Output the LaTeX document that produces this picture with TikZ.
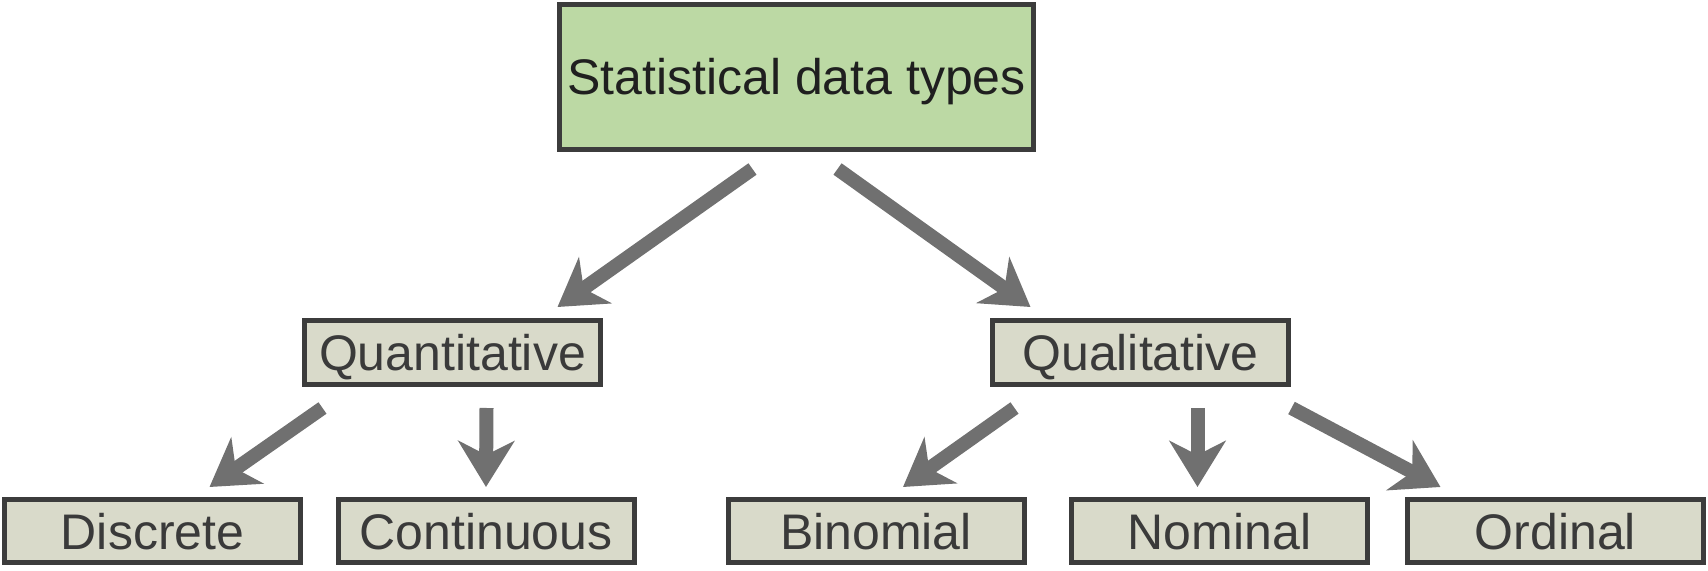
\documentclass[tikz,border=0pt]{standalone}
\usepackage{fontspec}
\setmainfont{Liberation Sans}
\usetikzlibrary{arrows.meta}
\definecolor{rootgreen}{HTML}{BCD9A4}
\definecolor{leafgray}{HTML}{D9DACA}
\definecolor{edgegray}{HTML}{3C3C3C}
\definecolor{arrowgray}{HTML}{707070}
\definecolor{labelgray}{HTML}{3A3A3A}

\begin{document}
\begin{tikzpicture}[x=0.5pt, y=-0.5pt,
        rootbox/.style={draw=edgegray, line width=2.5pt, fill=rootgreen, inner sep=0pt,
            minimum width=237pt, minimum height=72.5pt, text=black!88,
            font=\fontsize{25}{29}\selectfont, text height=18pt, text depth=0pt},
        midbox/.style={draw=edgegray, line width=2.5pt, fill=leafgray, inner sep=0pt,
            minimum width=148pt, minimum height=32pt, text=labelgray,
            font=\fontsize{25}{29}\selectfont, text height=18pt, text depth=0pt},
        leafbox/.style={midbox, minimum height=31.5pt},
        flowarrow/.style={draw=arrowgray, line width=7pt,
            -{Stealth[length=23pt, width=28pt, inset=7pt]}}]
        \useasboundingbox (0, 0) rectangle (1708, 571);

        % Top level
        \node[rootbox] (types) at (796.5, 77) {Statistical data types};

        % Second level
        \node[midbox] (quant) at (452.5, 352.5) {Quantitative};
        \node[midbox] (qual) at (1140.5, 352.5) {Qualitative};

        % Bottom level
        \node[leafbox] (discrete) at (152.5, 531) {Discrete};
        \node[leafbox] (continuous) at (486, 531) {Continuous};
        \node[leafbox] (binomial) at (876, 531) {Binomial};
        \node[leafbox] (nominal) at (1219.5, 531) {Nominal};
        \node[leafbox] (ordinal) at (1555.5, 531) {Ordinal};

        % Arrows from the top
        \draw[flowarrow] ([shift={(-44, 17)}]types.south) -- ([shift={(105, -11)}]quant.north);
        \draw[flowarrow] ([shift={(41, 17)}]types.south) -- ([shift={(-110, -11)}]qual.north);

        % Arrows from quantitative
        \draw[flowarrow] ([shift={(-130, 21)}]quant.south) -- ([shift={(57, -10)}]discrete.north);
        \draw[flowarrow] ([shift={(34, 21)}]quant.south) -- ([shift={(0, -10)}]continuous.north);

        % Arrows from qualitative
        \draw[flowarrow] ([shift={(-126, 21)}]qual.south) -- ([shift={(27, -10)}]binomial.north);
        \draw[flowarrow] ([shift={(57, 21)}]qual.south) -- ([shift={(-22, -10)}]nominal.north);
        \draw[flowarrow] ([shift={(151, 21)}]qual.south) -- ([shift={(-115, -10)}]ordinal.north);

    \end{tikzpicture}
\end{document}
